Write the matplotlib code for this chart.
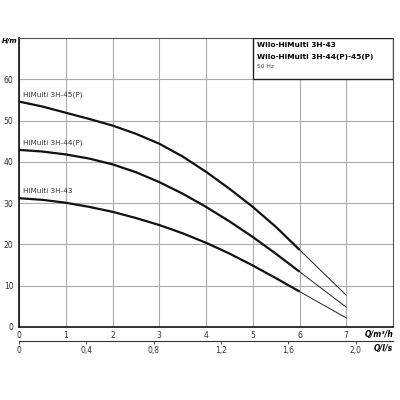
import matplotlib
matplotlib.use("Agg")
import matplotlib.pyplot as plt
from matplotlib.patches import Rectangle
import numpy as np

# flow (m3/h) and head (m)
q = [0, 0.5, 1, 1.5, 2, 2.5, 3, 3.5, 4, 4.5, 5, 5.5, 6, 6.5, 7]
h_45 = [54.6, 53.4, 51.9, 50.4, 48.8, 46.8, 44.4, 41.3, 37.6, 33.5, 29.1, 24.2, 18.7, 13.2, 7.7]
h_44 = [42.9, 42.5, 41.8, 40.8, 39.4, 37.5, 35.1, 32.3, 29.1, 25.6, 21.8, 17.7, 13.4, 9.1, 4.8]
h_43 = [31.2, 30.8, 30.1, 29.1, 27.9, 26.4, 24.7, 22.7, 20.4, 17.8, 14.9, 11.8, 8.6, 5.4, 2.2]
names = ["HiMulti 3H-45(P)", "HiMulti 3H-44(P)", "HiMulti 3H-43"]
q_end_thick = 6

x_ticks = [0, 1, 2, 3, 4, 5, 6, 7]
y_ticks = [0, 10, 20, 30, 40, 50, 60]
ls_ticks = [0, 0.4, 0.8, 1.2, 1.6, 2.0]
ls_labels = ["0", "0,4", "0,8", "1,2", "1,6", "2,0"]

title_lines = ["Wilo-HiMulti 3H-43", "Wilo-HiMulti 3H-44(P)-45(P)"]
freq_text = "50 Hz"

fig = plt.figure(figsize=(4, 4), dpi=100)
ax = fig.add_axes([0.0475, 0.1825, 0.935, 0.7225])
ax.set_xlim(0, 8)
ax.set_ylim(0, 70)

q = np.array(q)
thick = q <= q_end_thick
thin = q >= q_end_thick
for h, name in zip([h_45, h_44, h_43], names):
    h = np.array(h)
    ax.plot(q[thick], h[thick], color="#111111", lw=1.6, solid_capstyle="butt",
            solid_joinstyle="round", zorder=3)
    ax.plot(q[thin], h[thin], color="#222222", lw=0.7, zorder=3)
    ax.text(0.08, h[0] + 0.9, name, fontsize=5.2, color="#333333", ha="left", va="bottom")

ax.set_xticks(x_ticks)
ax.set_yticks(y_ticks)
ax.grid(True, color="#ababab", lw=0.8)
ax.set_axisbelow(True)
ax.tick_params(axis="both", length=0, labelsize=5.5, colors="#333333", pad=3)
ax.tick_params(axis="y", pad=4)

for s in ["left", "bottom"]:
    ax.spines[s].set_linewidth(1.2)
    ax.spines[s].set_color("#111111")
for s in ["top", "right"]:
    ax.spines[s].set_linewidth(0.8)
    ax.spines[s].set_color("#555555")

# title box in the top right corner
ax.add_patch(Rectangle((5, 60), 3, 10, facecolor="white", edgecolor="#222222", lw=1.0, zorder=4))
ax.text(5.1, 68.2, title_lines[0], fontsize=5.3, fontweight="bold", va="center", zorder=5)
ax.text(5.1, 65.5, title_lines[1], fontsize=5.3, fontweight="bold", va="center", zorder=5)
ax.text(5.1, 63.0, freq_text, fontsize=4.2, color="#444444", va="center", zorder=5)

# second flow scale in l/s
sec = ax.secondary_xaxis(-0.048, functions=(lambda x: x / 3.6, lambda x: x * 3.6))
sec.set_xticks(ls_ticks)
sec.set_xticklabels(ls_labels)
sec.tick_params(length=2, width=0.6, labelsize=5.5, colors="#333333", pad=2)
sec.spines["bottom"].set_linewidth(0.8)
sec.spines["bottom"].set_color("#333333")

ax.text(-0.024, 1.0, "H/m", transform=ax.transAxes, fontsize=5, fontstyle="italic",
        fontweight="bold", ha="center", va="top")
ax.text(1.0, -0.025, "Q/m³/h", transform=ax.transAxes, fontsize=5.5, fontstyle="italic",
        fontweight="bold", ha="right", va="center")
ax.text(1.0, -0.076, "Q/l/s", transform=ax.transAxes, fontsize=5.5, fontstyle="italic",
        fontweight="bold", ha="right", va="center")

plt.savefig("out.png", dpi=100)
